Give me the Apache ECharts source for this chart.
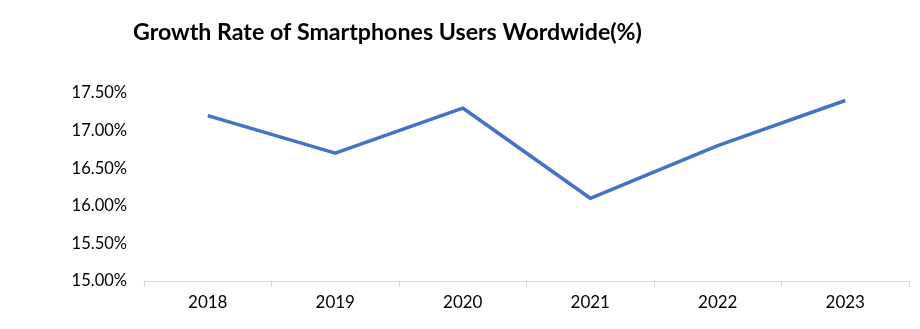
<!DOCTYPE html>
<html>
<head>
<meta charset="utf-8">
<script src="https://cdn.jsdelivr.net/npm/echarts@6/dist/echarts.min.js"></script>
<style>
  html, body { margin: 0; padding: 0; background: #fff; }
  #chart { width: 920px; height: 329px; }
</style>
</head>
<body>
<div id="chart"></div>
<script>
// Yearly growth rate of smartphone users worldwide, in percent
const years = ['2018', '2019', '2020', '2021', '2022', '2023'];
const growthRate = [17.2, 16.7, 17.3, 16.1, 16.8, 17.4];
const yTicks = { min: 15, max: 17.5, step: 0.5 };

const chart = echarts.init(document.getElementById('chart'));
chart.setOption({
  animation: false,
  title: {
    text: 'Growth Rate of Smartphones Users Wordwide(%)',
    left: 128,
    top: 16,
    textStyle: {
      fontFamily: 'Lato, "Liberation Sans", sans-serif',
      fontWeight: 'bold',
      fontSize: 23.2,
      color: '#000'
    }
  },
  grid: { left: 144, right: 11, top: 93, bottom: 48 },
  xAxis: {
    type: 'category',
    data: years,
    boundaryGap: true,
    axisLine: { lineStyle: { color: '#d9d9d9', width: 1 } },
    axisTick: { show: true, length: 6, lineStyle: { color: '#d9d9d9' } },
    axisLabel: {
      margin: 13,
      fontSize: 17,
      color: '#000',
      fontFamily: 'Lato, "Liberation Sans", sans-serif'
    },
    splitLine: { show: false }
  },
  yAxis: {
    type: 'value',
    min: yTicks.min,
    max: yTicks.max,
    interval: yTicks.step,
    axisLine: { show: false },
    axisTick: { show: false },
    splitLine: { show: false },
    axisLabel: {
      margin: 17,
      fontSize: 16.5,
      color: '#000',
      fontFamily: 'Lato, "Liberation Sans", sans-serif',
      formatter: v => v.toFixed(2) + '%'
    }
  },
  series: [{
    type: 'line',
    data: growthRate,
    symbol: 'none',
    lineStyle: { color: '#4472c4', width: 3.5 },
    itemStyle: { color: '#4472c4' }
  }]
});
</script>
</body>
</html>
